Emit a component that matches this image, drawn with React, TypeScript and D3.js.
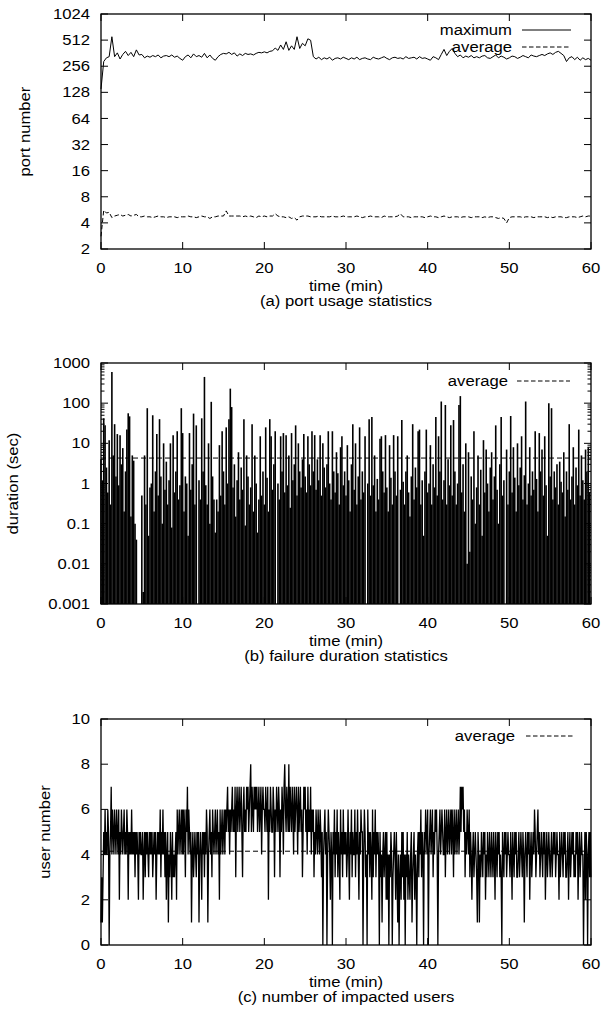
import React from 'react';
import * as d3 from 'd3';

const W = 613;
const H = 1017;

// ---------- ticks ----------
const timeTicks = [0, 10, 20, 30, 40, 50, 60];
const portTicks = [2, 4, 8, 16, 32, 64, 128, 256, 512, 1024];
const durTicks = [0.001, 0.01, 0.1, 1, 10, 100, 1000];
const durTickLabels = ['0.001', '0.01', '0.1', '1', '10', '100', '1000'];
const userTicks = [0, 2, 4, 6, 8, 10];

// ---------- (a) port usage, one sample every 20 s ----------
const portMax = [
  140, 290, 320, 330, 560, 330, 365, 310, 350, 380, 340, 370, 330, 395, 345,
  350, 320, 335, 325, 340, 330, 345, 320, 335, 340, 330, 345, 325, 335, 315,
  300, 330, 345, 320, 355, 330, 340, 325, 360, 320, 345, 315, 300, 330, 350,
  360, 355, 370, 350, 365, 335, 355, 340, 360, 350, 355, 345, 360, 370, 365,
  375, 365, 380, 385, 415, 390, 450, 400, 490, 390, 440, 400, 560, 410, 470,
  440, 530, 510, 330, 310, 325, 305, 320, 310, 325, 300, 315, 320, 310, 325,
  315, 305, 320, 310, 325, 305, 315, 320, 310, 305, 325, 315, 310, 320, 330,
  315, 305, 320, 325, 315, 320, 310, 330, 315, 320, 325, 310, 330, 315, 320,
  310, 300, 330, 320, 305, 350, 400, 340, 380, 410, 360, 330, 345, 320, 335,
  325, 340, 320, 330, 320, 335, 340, 320, 315, 330, 345, 320, 335, 325, 310,
  320, 335, 330, 315, 325, 340, 330, 320, 345, 335, 330, 340, 350, 340, 355,
  365, 350, 370, 380, 360, 340, 290, 320, 330, 305, 325, 300, 320, 305, 315,
  300,
];
const portAvg = [
  2.8, 5.6, 5.2, 5.3, 4.6, 4.8, 4.9, 5.0, 4.8, 4.9, 5.0, 4.8, 4.9, 5.0, 4.7,
  4.7, 4.8, 4.7, 4.7, 4.6, 4.7, 4.8, 4.7, 4.7, 4.6, 4.7, 4.7, 4.7, 4.6, 4.7,
  4.7, 4.7, 4.8, 4.7, 4.7, 4.6, 4.7, 4.8, 4.7, 4.7, 4.5, 4.7, 4.7, 4.8, 4.8,
  4.8, 5.5, 4.8, 4.8, 4.8, 4.8, 4.8, 4.7, 4.8, 4.7, 4.8, 4.7, 4.6, 4.8, 4.7,
  4.8, 4.7, 4.8, 4.8, 5.1, 4.8, 4.7, 4.7, 4.6, 4.7, 4.5, 4.6, 4.3, 4.7, 4.8,
  4.8, 4.8, 4.7, 4.7, 4.7, 4.8, 4.7, 4.7, 4.7, 4.7, 4.8, 4.7, 4.7, 4.7, 4.8,
  4.7, 4.7, 4.7, 4.7, 4.8, 4.7, 4.6, 4.7, 4.7, 4.8, 4.7, 4.7, 4.7, 4.6, 4.8,
  4.7, 4.7, 4.7, 4.7, 4.8, 5.1, 4.7, 4.7, 4.7, 4.6, 4.7, 4.7, 4.7, 4.7, 4.6,
  4.7, 4.8, 4.7, 4.7, 4.6, 4.7, 4.8, 4.7, 4.6, 4.7, 4.7, 4.7, 4.6, 4.7, 4.7,
  4.7, 4.6, 4.7, 4.7, 4.7, 4.6, 4.7, 4.6, 4.7, 4.7, 4.6, 4.5, 4.6, 4.5, 4.0,
  4.6, 4.7, 4.7, 4.7, 4.7, 4.6, 4.7, 4.7, 4.7, 4.6, 4.7, 4.7, 4.7, 4.7, 4.6,
  4.7, 4.6, 4.7, 4.7, 4.7, 4.6, 4.6, 4.7, 4.7, 4.7, 4.6, 4.7, 4.8, 4.7, 4.8,
  4.8,
];

// ---------- (b) failure duration (sec), one sample every 10 s ----------
const failDur = [
  4, 1.2, 42, 28, 2.5, 0.6,
  12, 0.3, 600, 5, 30, 1.5,
  17, 0.9, 16, 3, 7.6, 0.2,
  2, 22, 56, 47, 0.15, 5,
  3.7, 0.1, 0.04, 0, 0, 0,
  0.5, 0.002, 5, 0.3, 75, 0.05,
  0.8, 1, 50, 0.2, 2, 17,
  0.5, 40, 1.5, 0.1, 10, 0.7,
  3.5, 0.3, 1.2, 10, 0.08, 16,
  0.6, 2, 20, 0.4, 0.9, 75,
  18, 0.2, 1.5, 1, 0.05, 18,
  0.7, 3, 55, 0.3, 28, 0,
  1.2, 0.4, 42, 2, 450, 0.9,
  0.3, 10, 0.1, 108, 1.5, 0.4,
  0.06, 0.4, 0.2, 9, 0.5, 20,
  2, 0.3, 25, 1, 40, 230,
  80, 0.8, 3, 0.15, 1.2, 6,
  0.4, 2.5, 0.7, 40, 0.09, 5,
  1.5, 0.3, 0.8, 30, 0.2, 5,
  1, 0.06, 0.4, 15, 0.5, 2,
  0.3, 25, 1.4, 0.2, 40, 15,
  0.7, 3, 20, 0, 1, 0.4,
  15, 2, 18, 0.6, 16, 0.9,
  5, 0.25, 18, 1.2, 3, 28,
  0.5, 10, 2, 0.8, 4, 17,
  1.5, 0.6, 15, 3, 0.9, 20,
  2, 16, 0.7, 4, 1.2, 16,
  0.5, 10, 2.5, 0.8, 3, 20,
  1, 0.4, 20, 2, 0.6, 6,
  1.8, 0.3, 8, 15, 0.9, 2,
  0.5, 9, 1.2, 0.2, 3, 30,
  0.7, 10, 0.3, 1.5, 25, 0.4,
  2, 0.6, 15, 0, 1, 40,
  0.5, 45, 0.9, 5, 0.2, 1.3,
  0.4, 13, 15, 2, 0.6, 16,
  0.8, 0.2, 9, 1.4, 0.3, 16,
  2, 0.5, 15, 0, 0.7, 38,
  1.1, 0.3, 2, 5, 0.6, 0.15,
  1.5, 30, 0.4, 2.5, 0.8, 20,
  22, 0.3, 1.2, 0.05, 2, 22,
  0.6, 1, 9, 0.3, 3, 0.8,
  45, 0.5, 15, 2, 110, 0.4,
  1.2, 90, 0.3, 4, 0.9, 28,
  0.5, 38, 2, 0.3, 1, 90,
  150, 0.6, 3, 0.2, 10, 0.01,
  6, 0.02, 1.5, 0.4, 20, 0.1,
  0.8, 5, 0.3, 2.2, 0.05, 12,
  0.6, 7, 1, 0.2, 2.5, 6,
  0.4, 1.5, 28, 0.7, 0.1, 3,
  45, 0.5, 1.2, 0, 7, 0.3,
  2, 48, 0.6, 8, 1.4, 0.2,
  10, 0.9, 2.5, 15, 0.4, 1.6,
  110, 0.3, 1, 8, 0.5, 2,
  0.7, 20, 1.3, 0.2, 18, 2,
  7, 0.5, 15, 0.9, 0.05, 100,
  1.5, 75, 0.4, 2, 0.8, 3,
  0.3, 3.5, 1.1, 0.6, 6, 0.15,
  2, 0.7, 30, 0.4, 1.5, 8,
  0.3, 2.5, 0.9, 22, 0.5, 5,
  1.2, 0.4, 7, 2, 8, 0.6,
];
const failAvg = 4.3;

// ---------- (c) impacted users, one sample every 5 s (12 per minute) ----------
const users = [
  1, 3, 1, 3, 5, 4, 6, 4, 5, 4, 6, 5,
  0, 4, 5, 7, 4, 6, 5, 4, 6, 5, 4, 6,
  5, 4, 6, 2, 5, 4, 6, 5, 4, 5, 6, 4,
  5, 4, 6, 5, 2, 5, 4, 5, 4, 6, 4, 5,
  4, 5, 3, 5, 4, 5, 4, 2, 5, 4, 5, 4,
  4, 5, 2, 4, 5, 3, 5, 4, 5, 4, 3, 5,
  4, 5, 4, 5, 3, 4, 5, 4, 5, 2, 4, 5,
  4, 5, 4, 6, 3, 5, 4, 6, 4, 5, 3, 5,
  2, 4, 5, 1, 4, 3, 5, 4, 2, 5, 3, 4,
  3, 4, 5, 2, 6, 4, 5, 6, 4, 5, 6, 4,
  6, 4, 6, 5, 3, 6, 5, 7, 4, 6, 5, 4,
  5, 1, 4, 5, 3, 4, 5, 4, 3, 5, 4, 5,
  1, 4, 5, 4, 2, 5, 4, 5, 3, 5, 4, 6,
  5, 1, 4, 5, 6, 4, 5, 3, 6, 5, 4, 5,
  6, 4, 5, 6, 4, 5, 2, 6, 4, 5, 6, 4,
  5, 6, 4, 6, 5, 6, 7, 5, 6, 4, 6, 5,
  6, 7, 5, 6, 5, 7, 3, 6, 7, 5, 6, 7,
  5, 6, 7, 5, 3, 6, 7, 5, 6, 5, 7, 6,
  7, 5, 6, 7, 8, 5, 7, 6, 5, 7, 6, 7,
  6, 7, 5, 6, 7, 5, 6, 7, 4, 6, 7, 6,
  6, 5, 7, 6, 5, 7, 2, 6, 5, 7, 6, 5,
  5, 7, 6, 3, 6, 5, 7, 6, 5, 7, 6, 3,
  6, 5, 7, 6, 4, 7, 8, 6, 5, 7, 6, 5,
  8, 5, 7, 6, 5, 7, 6, 4, 7, 5, 6, 7,
  6, 4, 7, 5, 6, 7, 5, 6, 3, 5, 7, 6,
  7, 5, 6, 4, 7, 5, 6, 5, 7, 4, 6, 5,
  6, 3, 5, 4, 6, 5, 4, 6, 5, 4, 6, 5,
  3, 5, 0, 4, 5, 6, 4, 5, 0, 4, 6, 5,
  4, 2, 5, 4, 0, 5, 4, 6, 3, 5, 4, 6,
  3, 5, 4, 2, 6, 4, 5, 3, 6, 4, 5, 4,
  5, 3, 4, 6, 4, 2, 5, 4, 6, 3, 5, 4,
  4, 6, 3, 5, 4, 6, 4, 2, 5, 4, 6, 5,
  5, 0, 4, 6, 5, 3, 4, 0, 6, 4, 5, 3,
  5, 4, 2, 6, 3, 5, 4, 6, 3, 5, 4, 5,
  4, 0, 5, 3, 4, 1, 4, 5, 3, 4, 5, 2,
  5, 2, 4, 0, 4, 3, 5, 4, 0, 3, 4, 5,
  4, 2, 5, 3, 1, 4, 0, 3, 4, 2, 5, 3,
  5, 2, 4, 0, 4, 3, 5, 2, 4, 3, 2, 4,
  5, 1, 3, 4, 5, 2, 4, 3, 0, 4, 5, 3,
  5, 4, 6, 3, 5, 4, 0, 5, 4, 6, 5, 4,
  6, 0, 4, 5, 6, 4, 5, 6, 3, 5, 4, 6,
  5, 6, 4, 0, 4, 5, 6, 4, 5, 6, 5, 4,
  4, 6, 3, 5, 6, 4, 5, 6, 4, 5, 6, 4,
  6, 5, 3, 6, 4, 5, 6, 4, 5, 6, 4, 5,
  7, 5, 7, 6, 7, 5, 6, 3, 5, 4, 6, 5,
  4, 6, 3, 5, 4, 2, 4, 5, 3, 4, 5, 4,
  3, 1, 5, 4, 1, 4, 3, 5, 4, 3, 5, 4,
  5, 2, 4, 3, 5, 4, 3, 5, 4, 3, 5, 4,
  3, 5, 4, 2, 5, 4, 3, 5, 4, 5, 3, 4,
  3, 0, 5, 4, 3, 5, 4, 5, 3, 4, 5, 4,
  4, 3, 5, 4, 2, 5, 4, 3, 5, 4, 5, 3,
  3, 4, 5, 3, 4, 5, 4, 3, 5, 4, 1, 4,
  5, 4, 3, 5, 4, 5, 2, 4, 5, 3, 4, 5,
  4, 6, 5, 3, 4, 5, 6, 4, 5, 3, 4, 5,
  4, 3, 5, 4, 5, 2, 4, 5, 3, 4, 5, 4,
  3, 4, 5, 3, 4, 5, 4, 5, 3, 4, 5, 4,
  4, 2, 5, 3, 4, 5, 4, 3, 5, 4, 5, 3,
  3, 4, 5, 2, 4, 5, 3, 4, 5, 4, 5, 3,
  4, 3, 5, 4, 5, 2, 4, 5, 3, 4, 5, 4,
  4, 0, 3, 5, 2, 5, 4, 0, 4, 5, 3, 5,
  3,
];
const usersAvg = 4.15;

// ---------- layout ----------
const FONT = "'Liberation Sans', Arial, Helvetica, sans-serif";
const FS = 14.5;
const SX = 1.15;
const LEFT = 101;
const RIGHT = 591;
const TICK = 7;
const MINOR = 3.5;

const x = d3.scaleLinear().domain([0, 60]).range([LEFT, RIGHT]);

function T({ x: tx, y: ty, anchor = 'middle', rotate = 0, children }: any) {
  return (
    <g transform={`translate(${tx},${ty}) rotate(${rotate}) scale(${SX},1)`}>
      <text textAnchor={anchor} dy="0.35em" fontFamily={FONT} fontSize={FS} fill="#000">
        {children}
      </text>
    </g>
  );
}

function Frame({ top, bottom, y, ticks, labels, minors, ylabel, ylabelX, caption }: any) {
  return (
    <g>
      {ticks.map((t: number, i: number) => (
        <g key={'y' + i}>
          <line x1={LEFT} x2={LEFT + TICK} y1={y(t)} y2={y(t)} stroke="#000" />
          <line x1={RIGHT} x2={RIGHT - TICK} y1={y(t)} y2={y(t)} stroke="#000" />
          <T x={90} y={y(t)} anchor="end">{labels[i]}</T>
        </g>
      ))}
      {(minors || []).map((t: number, i: number) => (
        <g key={'m' + i}>
          <line x1={LEFT} x2={LEFT + MINOR} y1={y(t)} y2={y(t)} stroke="#000" />
          <line x1={RIGHT} x2={RIGHT - MINOR} y1={y(t)} y2={y(t)} stroke="#000" />
        </g>
      ))}
      {timeTicks.map((t, i) => (
        <g key={'x' + i}>
          <line x1={x(t)} x2={x(t)} y1={bottom} y2={bottom - TICK} stroke="#000" />
          <line x1={x(t)} x2={x(t)} y1={top} y2={top + TICK} stroke="#000" />
          <T x={x(t)} y={bottom + 19}>{String(t)}</T>
        </g>
      ))}
      <rect x={LEFT} y={top} width={RIGHT - LEFT} height={bottom - top} fill="none" stroke="#000" strokeWidth={1.3} />
      <T x={ylabelX} y={(top + bottom) / 2} rotate={-90}>{ylabel}</T>
      <T x={(LEFT + RIGHT) / 2} y={bottom + 37}>time (min)</T>
      <T x={(LEFT + RIGHT) / 2} y={bottom + 52}>{caption}</T>
    </g>
  );
}

export default function App() {
  // (a)
  const aTop = 14, aBot = 249;
  const yA = d3.scaleLog().base(2).domain([2, 1024]).range([aBot, aTop]);
  const lineA = d3.line<number>().x((_, i) => x(i / 3)).y((v) => yA(v));

  // (b)
  const bTop = 363, bBot = 604;
  const yB = d3.scaleLog().domain([0.001, 1000]).range([bBot, bTop]);
  const bMinors: number[] = [];
  for (let e = -3; e < 3; e++) for (let k = 2; k <= 9; k++) bMinors.push(k * Math.pow(10, e));

  // (c)
  const cTop = 719, cBot = 945;
  const yC = d3.scaleLinear().domain([0, 10]).range([cBot, cTop]);
  const lineC = d3.line<number>().x((_, i) => x(i / 12)).y((v) => yC(v));

  return (
    <svg width={W} height={H} style={{ position: 'absolute', left: 0, top: 0, background: '#fff' }}>
      <rect width={W} height={H} fill="#fff" />

      {/* panel (a) */}
      <path d={lineA(portMax) || ''} fill="none" stroke="#000" strokeWidth={1} />
      <path d={lineA(portAvg) || ''} fill="none" stroke="#000" strokeWidth={1} strokeDasharray="4.5,2.5" />
      <Frame top={aTop} bottom={aBot} y={yA} ticks={portTicks} labels={portTicks.map(String)}
        ylabel="port number" ylabelX={25} caption="(a) port usage statistics" />
      <T x={512} y={30} anchor="end">maximum</T>
      <line x1={522} x2={571} y1={30} y2={30} stroke="#000" />
      <T x={512} y={47} anchor="end">average</T>
      <line x1={522} x2={571} y1={47} y2={47} stroke="#000" strokeDasharray="4.5,2.5" />

      {/* panel (b) */}
      {failDur.map((v, i) =>
        v > 0.001 ? (
          <line key={'b' + i} x1={x(i / 6)} x2={x(i / 6)} y1={yB(0.001)} y2={yB(v)} stroke="#000" strokeWidth={1.6} />
        ) : null
      )}
      <line x1={LEFT} x2={RIGHT} y1={yB(failAvg)} y2={yB(failAvg)} stroke="#000" strokeDasharray="5,3" />
      <Frame top={bTop} bottom={bBot} y={yB} ticks={durTicks} labels={durTickLabels} minors={bMinors}
        ylabel="duration (sec)" ylabelX={13} caption="(b) failure duration statistics" />
      <T x={508} y={381} anchor="end">average</T>
      <line x1={517} x2={570} y1={381} y2={381} stroke="#000" strokeDasharray="4.5,2.5" />

      {/* panel (c) */}
      <path d={lineC(users) || ''} fill="none" stroke="#000" strokeWidth={1.3} />
      <line x1={LEFT} x2={RIGHT} y1={yC(usersAvg)} y2={yC(usersAvg)} stroke="#000" strokeDasharray="5,3" />
      <Frame top={cTop} bottom={cBot} y={yC} ticks={userTicks} labels={userTicks.map(String)}
        ylabel="user number" ylabelX={45} caption="(c) number of impacted users" />
      <T x={515} y={736} anchor="end">average</T>
      <line x1={526} x2={573} y1={736} y2={736} stroke="#000" strokeDasharray="4.5,2.5" />
    </svg>
  );
}
